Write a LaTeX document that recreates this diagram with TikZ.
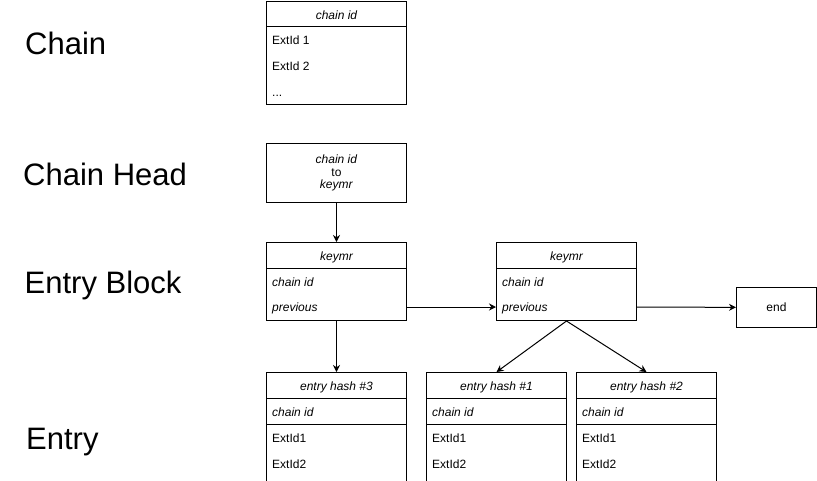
\documentclass[tikz,border=0pt]{standalone}
\usepackage{fontspec}
\setmainfont{Liberation Sans}
\usetikzlibrary{arrows.meta}

\begin{document}
\begin{tikzpicture}[
    x=1pt, y=-1pt,
    box/.style={draw, line width=1pt, anchor=north west, inner sep=0pt,
      minimum width=140pt},
    title/.style={anchor=base west, inner sep=0pt,
      font=\fontsize{31}{36}\selectfont},
    head/.style={inner sep=0pt, text height=9pt, text depth=0pt,
      font=\fontsize{12}{14}\selectfont\itshape},
    field/.style={anchor=west, inner sep=0pt, text height=9pt, text depth=0pt,
      font=\fontsize{12}{14}\selectfont},
    ifield/.style={field, font=\fontsize{12}{14}\selectfont\itshape},
    arrow/.style={-{Stealth[length=7pt,width=7pt]}, line width=1pt}
  ]
  \fill[white] (0,0) rectangle (817,480);
  \useasboundingbox (0,0) rectangle (817,480);

  % row titles
  \node[title] (tchain) at (25,54) {Chain};
  \node[title] (thead) at (23,185) {Chain Head};
  \node[title] (tblock) at (24.5,293) {Entry Block};
  \node[title] (tentry) at (26,449) {Entry};

  % chain
  \node[box, minimum height=103pt] (chain) at (266,1) {};
  \draw[line width=1pt] ([yshift=-25pt]chain.north west) -- ([yshift=-25pt]chain.north east);
  \node[head] (chainK) at ([yshift=-13.5pt]chain.north) {chain id};
  \node[field] (chainA) at ([xshift=6pt,yshift=-39pt]chain.north west) {ExtId 1};
  \node[field] (chainB) at ([xshift=6pt,yshift=-65pt]chain.north west) {ExtId 2};
  \node[field] (chainC) at ([xshift=6pt,yshift=-91pt]chain.north west) {...};

  % chain head
  \node[box, minimum height=59pt, align=center,
    font=\fontsize{12}{12.5}\selectfont] (chainhead) at (266,143)
    {\textit{chain id}\\to\\\textit{keymr}};

  % entry blocks
  \node[box, minimum height=78pt] (blockA) at (266,242) {};
  \draw[line width=1pt] ([yshift=-26pt]blockA.north west) -- ([yshift=-26pt]blockA.north east);
  \node[head] (blockAK) at ([yshift=-14pt]blockA.north) {keymr};
  \node[ifield] (blockAid) at ([xshift=6pt,yshift=-40pt]blockA.north west) {chain id};
  \node[ifield] (blockAprev) at ([xshift=6pt,yshift=-65pt]blockA.north west) {previous};

  \node[box, minimum height=78pt] (blockB) at (496,242) {};
  \draw[line width=1pt] ([yshift=-26pt]blockB.north west) -- ([yshift=-26pt]blockB.north east);
  \node[head] (blockBK) at ([yshift=-14pt]blockB.north) {keymr};
  \node[ifield] (blockBid) at ([xshift=6pt,yshift=-40pt]blockB.north west) {chain id};
  \node[ifield] (blockBprev) at ([xshift=6pt,yshift=-65pt]blockB.north west) {previous};

  \node[box, minimum width=80pt, minimum height=40pt,
    font=\fontsize{12}{14}\selectfont] (end) at (736,287) {end};

  % entries
  \foreach \name/\x/\hash in {entry3/266/3, entry1/426/1, entry2/576/2} {
    \node[box, minimum height=115pt] (\name) at (\x,372) {};
    \draw[line width=1pt] ([yshift=-26pt]\name.north west) -- ([yshift=-26pt]\name.north east);
    \draw[line width=1pt] ([yshift=-52pt]\name.north west) -- ([yshift=-52pt]\name.north east);
    \node[head] (\name K) at ([yshift=-14pt]\name.north) {entry hash \#\hash};
    \node[ifield] (\name id) at ([xshift=6pt,yshift=-40pt]\name.north west) {chain id};
    \node[field] (\name A) at ([xshift=6pt,yshift=-66pt]\name.north west) {ExtId1};
    \node[field] (\name B) at ([xshift=6pt,yshift=-92pt]\name.north west) {ExtId2};
  }

  % connectors
  \draw[arrow] (chainhead) -- (blockA);
  \draw[arrow] (blockA.east |- blockAprev) -- (blockB.west |- blockBprev);
  \draw[arrow] (blockB.east |- blockBprev) -- (end);
  \draw[arrow] (blockA) -- (entry3);
  \draw[arrow] (blockB.south) -- (entry1.north);
  \draw[arrow] (blockB.south) -- (entry2.north);
\end{tikzpicture}
\end{document}
